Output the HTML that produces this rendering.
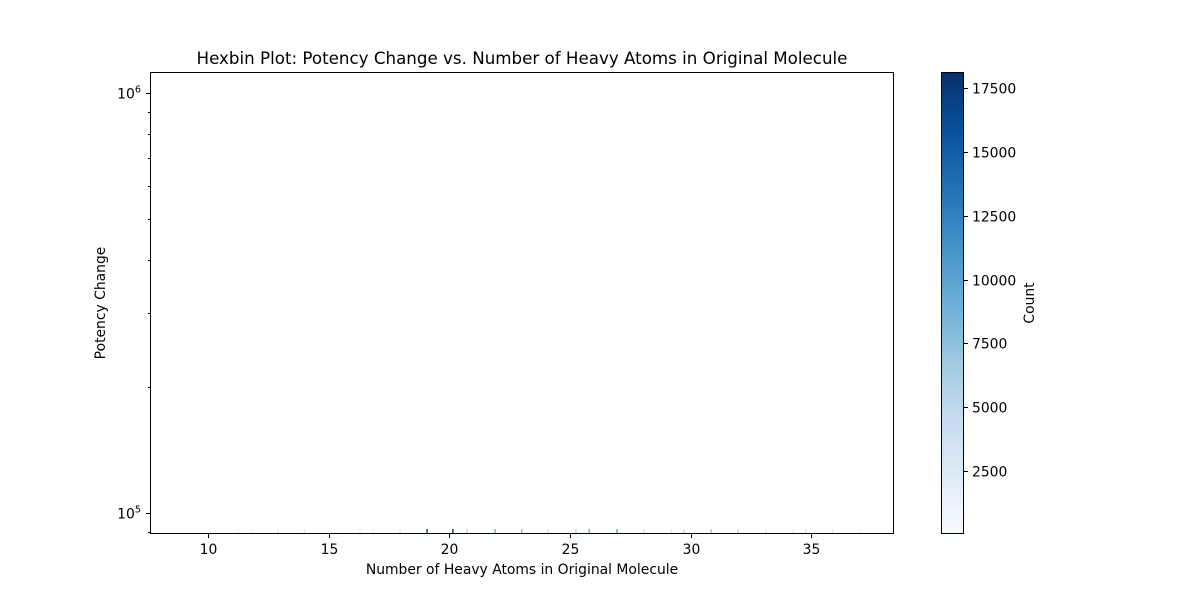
<!DOCTYPE html>
<html><head><meta charset="utf-8"><style>
body{margin:0;background:#fff;font-family:"Liberation Sans","DejaVu Sans",sans-serif;}
svg text{font-family:"DejaVu Sans","Liberation Sans",sans-serif;fill:#000}
</style></head><body>
<svg id="chart" width="1200" height="600" xmlns="http://www.w3.org/2000/svg">
<defs>
<linearGradient id="blues" x1="0" y1="1" x2="0" y2="0">
<stop offset="0" stop-color="#f7fbff"/><stop offset="0.125" stop-color="#deebf7"/>
<stop offset="0.25" stop-color="#c6dbef"/><stop offset="0.375" stop-color="#9ecae1"/>
<stop offset="0.5" stop-color="#6baed6"/><stop offset="0.625" stop-color="#4292c6"/>
<stop offset="0.75" stop-color="#2171b5"/><stop offset="0.875" stop-color="#08519c"/>
<stop offset="1" stop-color="#08306b"/></linearGradient></defs>
<text x="522" y="64" font-size="16.7" text-anchor="middle">Hexbin Plot: Potency Change vs. Number of Heavy Atoms in Original Molecule</text>
<g id="marks"></g>
<rect x="150.5" y="72.5" width="743" height="461" fill="none" stroke="#000" stroke-width="1"/>
<g id="xticks"></g><g id="yticks"></g>
<text x="522" y="574" font-size="13.9" text-anchor="middle">Number of Heavy Atoms in Original Molecule</text>
<text transform="translate(105,303) rotate(-90)" font-size="13.9" text-anchor="middle">Potency Change</text>
<rect x="941.5" y="72.5" width="22" height="461" fill="url(#blues)" stroke="#000" stroke-width="1"/>
<g id="cticks"></g>
<text transform="translate(1034,303) rotate(-90)" font-size="13.9" text-anchor="middle">Count</text>
</svg>
<script>
const xTickValues=[10,15,20,25,30,35];
const cTickValues=[2500,5000,7500,10000,12500,15000,17500];
const binAtoms=[11.24,11.82,12.9,14.0,16.3,16.84,17.96,19.08,20.15,20.73,21.9,23.0,24.1,25.25,25.8,26.95,28.07,29.19,29.73,30.85,31.96,33.12,34.24,34.78,35.9,37.0];
const binCounts=[800,1200,2500,3000,1500,2000,3000,17000,18000,5000,9000,8000,4000,5000,9000,10000,4000,3000,5000,7000,5000,3000,2000,4000,3000,1000];
const NS="http://www.w3.org/2000/svg";
const xs=v=>208+(v-10)*24.13;
const ys=v=>93+(6-Math.log10(v))*420;
const cs=v=>471-(v-2500)/2500*63.83;
function mk(t,a,p){const e=document.createElementNS(NS,t);for(const k in a)e.setAttribute(k,a[k]);(p||document.getElementById('chart')).appendChild(e);return e;}
const stops=[[0,[247,251,255]],[.125,[222,235,247]],[.25,[198,219,239]],[.375,[158,202,225]],[.5,[107,174,214]],[.625,[66,146,198]],[.75,[33,113,181]],[.875,[8,81,156]],[1,[8,48,107]]];
function col(c){let t=Math.max(0,Math.min(1,c/18100));for(let i=1;i<stops.length;i++){if(t<=stops[i][0]){const a=stops[i-1],b=stops[i],f=(t-a[0])/(b[0]-a[0]);return 'rgb('+a[1].map((v,j)=>Math.round(v+(b[1][j]-v)*f)).join(',')+')';}}return 'rgb(8,48,107)';}
const gm=document.getElementById('marks');
binAtoms.forEach((a,i)=>{
const r=mk('rect',{x:xs(a)-0.7,y:529,width:1.4,height:4,fill:col(binCounts[i])},gm);


});
const gx=document.getElementById('xticks');
xTickValues.forEach(v=>{
const x=Math.round(xs(v))+0.5;
mk('line',{x1:x,x2:x,y1:534,y2:538,stroke:'#000'},gx);
const t=mk('text',{x:x,y:554,'font-size':13.9,'text-anchor':'middle'},gx);t.textContent=v;


});
const gy=document.getElementById('yticks');
[[1e6,'6'],[1e5,'5']].forEach(([v,e])=>{
const y=Math.round(ys(v))+0.5;
mk('line',{x1:146,x2:150,y1:y,y2:y,stroke:'#000'},gy);
const t=mk('text',{x:141,y:y+5,'font-size':13.9,'text-anchor':'end'},gy);


t.innerHTML='10<tspan dy="-6" font-size="9.7">'+e+'</tspan>';
});
[9e4,2e5,3e5,4e5,5e5,6e5,7e5,8e5,9e5].forEach(v=>{const y=Math.round(ys(v))+0.5;mk('line',{x1:148,x2:150,y1:y,y2:y,stroke:'#000'},gy);});
const gc=document.getElementById('cticks');
cTickValues.forEach(v=>{
const y=Math.round(cs(v))+0.5;
mk('line',{x1:964,x2:968,y1:y,y2:y,stroke:'#000'},gc);
const t=mk('text',{x:972,y:y+5,'font-size':13.9},gc);t.textContent=v;


});
</script>
</body></html>
